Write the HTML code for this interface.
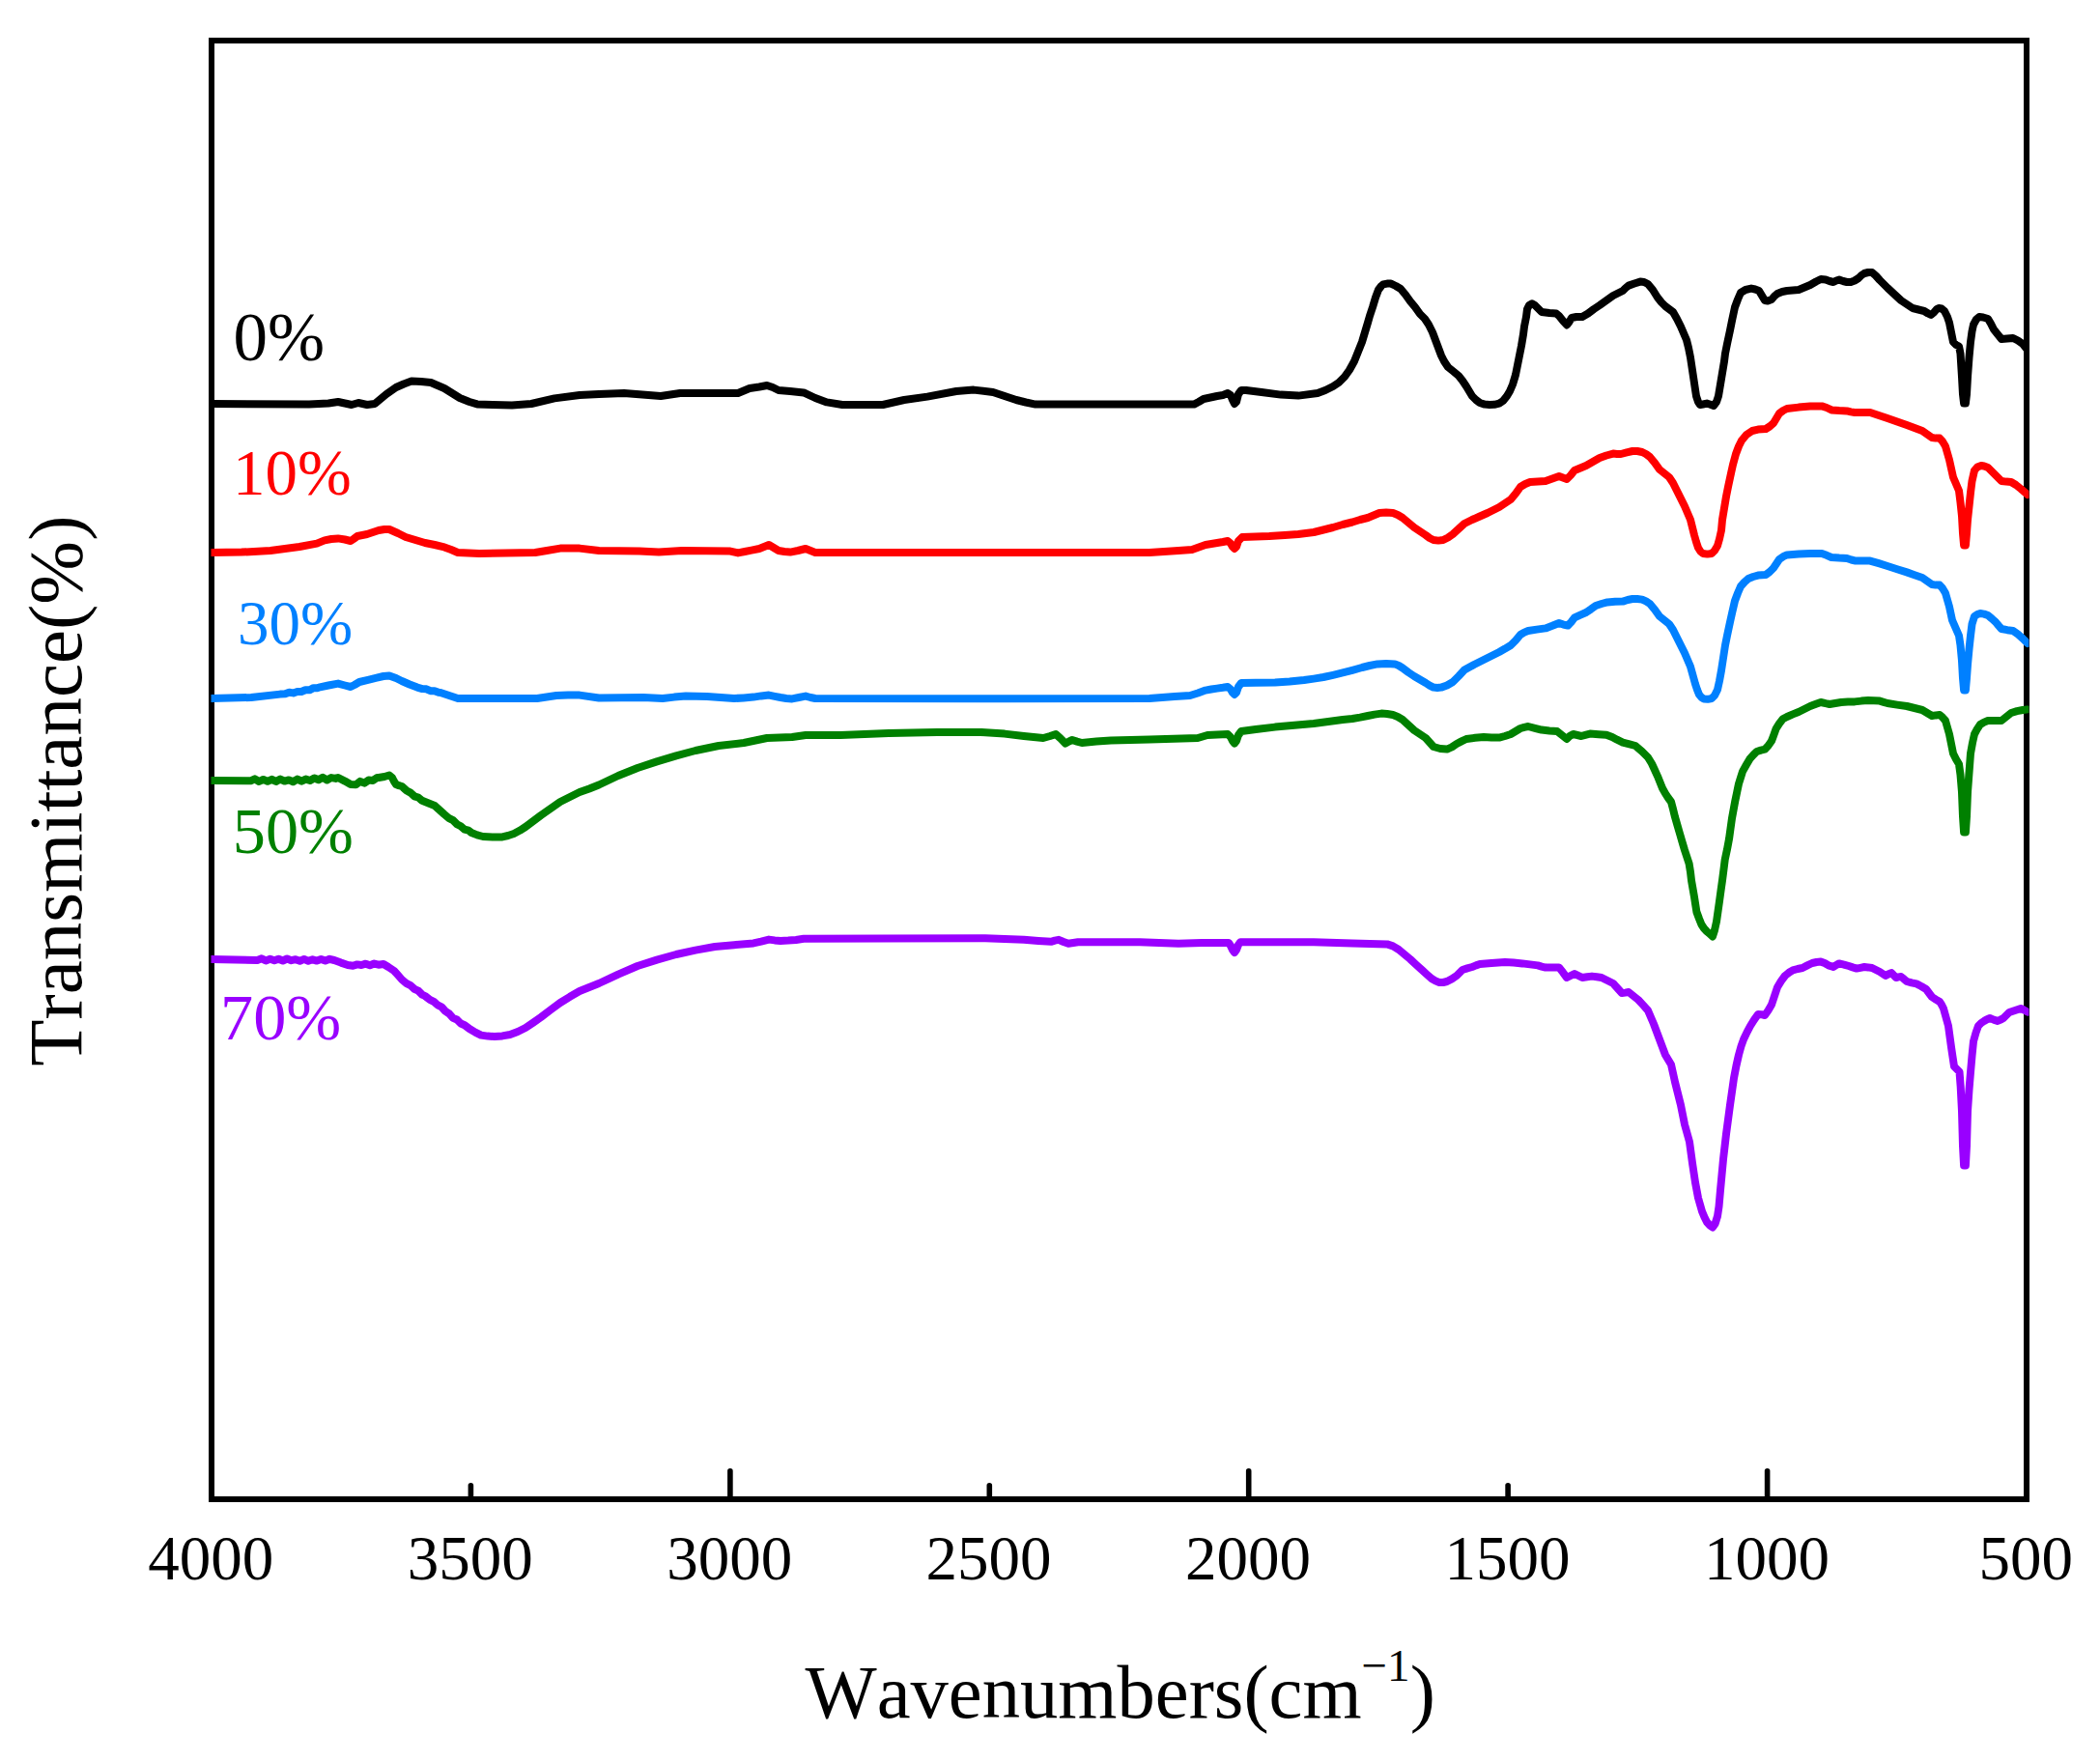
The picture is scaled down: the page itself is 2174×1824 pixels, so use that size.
<!DOCTYPE html>
<html lang="en"><head><meta charset="utf-8"><title>FTIR spectra</title>
<style>
html,body{margin:0;padding:0;background:#fff;}
body{width:2174px;height:1824px;overflow:hidden;}
svg{display:block;}
text{font-family:"Liberation Serif","Times New Roman",serif;font-kerning:none;}
</style></head><body>
<svg width="2174" height="1824" viewBox="0 0 2174 1824">
<rect width="2174" height="1824" fill="#fff"/>
<rect x="219" y="42" width="1879" height="1510" fill="none" stroke="#000" stroke-width="6"/>
<line x1="487.4" y1="1552" x2="487.4" y2="1537.8" stroke="#000" stroke-width="5.6" stroke-linecap="round"/>
<line x1="755.9" y1="1552" x2="755.9" y2="1522.8" stroke="#000" stroke-width="5.6" stroke-linecap="round"/>
<line x1="1024.3" y1="1552" x2="1024.3" y2="1537.8" stroke="#000" stroke-width="5.6" stroke-linecap="round"/>
<line x1="1292.7" y1="1552" x2="1292.7" y2="1522.8" stroke="#000" stroke-width="5.6" stroke-linecap="round"/>
<line x1="1561.1" y1="1552" x2="1561.1" y2="1537.8" stroke="#000" stroke-width="5.6" stroke-linecap="round"/>
<line x1="1829.6" y1="1552" x2="1829.6" y2="1522.8" stroke="#000" stroke-width="5.6" stroke-linecap="round"/>
<text x="218.3" y="1635" text-anchor="middle" font-size="65">4000</text>
<text x="486.7" y="1635" text-anchor="middle" font-size="65">3500</text>
<text x="755.2" y="1635" text-anchor="middle" font-size="65">3000</text>
<text x="1023.6" y="1635" text-anchor="middle" font-size="65">2500</text>
<text x="1292.0" y="1635" text-anchor="middle" font-size="65">2000</text>
<text x="1560.4" y="1635" text-anchor="middle" font-size="65">1500</text>
<text x="1828.9" y="1635" text-anchor="middle" font-size="65">1000</text>
<text x="2097.3" y="1635" text-anchor="middle" font-size="65">500</text>
<text x="833.5" y="1778" font-size="78.6">Wavenumbers(cm<tspan font-size="47" dy="-38">−1</tspan><tspan dy="38">)</tspan></text>
<text transform="translate(84,818.7) rotate(-90)" text-anchor="middle" font-size="79">Transmittance(%)</text>
<text x="241.5" y="373.3" font-size="71" fill="#000000">0%</text>
<text x="241" y="512" font-size="67" fill="#ff0000">10%</text>
<text x="246" y="667.3" font-size="65" fill="#0080ff">30%</text>
<text x="240.8" y="883" font-size="68.3" fill="#008000">50%</text>
<text x="228" y="1075.6" font-size="68.3" fill="#9900ff">70%</text>
<defs><clipPath id="plot"><rect x="218.5" y="39" width="1882" height="1516"/></clipPath></defs>
<g clip-path="url(#plot)">
<polyline fill="none" stroke="#000000" stroke-width="8" stroke-linejoin="round" stroke-linecap="round" points="219.0,418.0 320.0,418.4 340.0,417.5 350.0,416.0 364.0,419.0 371.0,417.0 380.0,419.0 388.0,418.0 394.0,413.0 400.0,408.0 410.0,401.0 418.0,397.5 426.0,394.6 436.0,395.0 446.0,396.0 460.0,402.0 476.0,412.0 486.0,416.0 494.0,418.4 510.0,419.0 530.0,419.6 550.0,418.0 574.0,412.4 600.0,409.0 620.0,408.0 646.0,407.0 665.0,408.5 684.0,410.0 704.0,407.0 764.0,407.0 776.0,402.0 786.0,400.5 794.0,399.0 800.0,401.0 806.0,404.0 818.0,405.0 832.0,406.4 844.0,412.0 856.0,416.4 872.0,419.0 914.0,419.0 936.0,414.0 960.0,410.6 990.0,405.0 1008.0,403.6 1028.0,406.0 1040.0,410.0 1052.0,414.0 1062.0,416.5 1072.0,418.6 1236.0,418.6 1241.0,416.0 1246.0,413.0 1260.0,410.0 1266.0,409.0 1271.0,407.0 1274.0,409.0 1276.0,414.0 1278.0,418.0 1280.0,416.0 1282.0,408.0 1285.0,404.0 1290.0,404.0 1306.0,406.0 1326.0,408.6 1344.0,409.6 1364.0,407.0 1372.0,404.0 1380.0,400.0 1386.0,396.0 1392.0,390.0 1397.0,383.0 1402.0,374.0 1406.0,364.0 1410.0,354.0 1413.0,344.0 1416.0,334.0 1418.0,327.0 1421.0,318.0 1424.0,308.0 1427.0,300.0 1430.0,296.0 1432.0,294.4 1436.0,293.6 1440.0,293.6 1445.0,296.0 1450.0,299.0 1455.0,305.0 1460.0,312.0 1465.0,318.0 1470.0,325.0 1475.0,330.0 1479.0,336.0 1483.0,344.0 1486.0,352.0 1489.0,360.0 1492.0,368.0 1495.0,374.0 1499.0,380.0 1504.0,384.0 1510.0,389.0 1514.0,394.0 1518.0,400.0 1521.0,405.0 1524.0,410.0 1528.0,414.0 1532.0,417.0 1537.0,418.6 1542.0,419.0 1547.0,418.8 1552.0,417.6 1556.0,415.0 1560.0,410.0 1563.0,405.0 1566.0,398.0 1569.0,388.0 1571.0,378.0 1573.0,368.0 1575.0,358.0 1577.0,346.0 1578.0,338.0 1580.0,328.0 1581.0,320.0 1583.0,316.0 1586.0,314.4 1589.0,316.0 1592.0,319.0 1596.0,323.0 1604.0,324.0 1611.0,324.4 1614.0,327.0 1618.0,332.0 1622.0,336.4 1624.0,334.0 1627.0,329.0 1632.0,328.0 1638.0,328.0 1644.0,324.5 1650.0,320.0 1656.0,316.0 1663.0,311.0 1670.0,306.0 1675.0,303.5 1680.0,301.0 1683.0,298.0 1686.0,295.6 1692.0,293.5 1698.0,291.6 1702.0,292.0 1706.0,294.0 1711.0,300.0 1716.0,308.0 1720.0,313.0 1724.0,317.0 1728.0,320.0 1732.0,323.0 1736.0,330.0 1740.0,338.0 1743.0,345.0 1746.0,352.0 1748.0,360.0 1750.0,370.0 1751.5,380.0 1753.0,390.0 1754.5,400.0 1756.0,410.0 1758.0,416.0 1760.0,419.0 1763.0,418.5 1767.0,417.6 1770.0,418.5 1774.0,420.0 1777.0,416.0 1779.0,410.0 1781.0,398.0 1783.0,386.0 1785.0,374.0 1786.0,366.0 1788.0,356.0 1791.0,342.0 1793.0,332.0 1796.0,318.0 1799.0,310.0 1802.0,303.0 1807.0,300.0 1813.0,298.6 1817.0,299.5 1821.0,301.0 1824.0,306.0 1827.0,311.0 1830.0,311.5 1834.0,310.0 1837.0,306.5 1840.0,304.0 1845.0,302.0 1850.0,301.0 1856.0,300.5 1862.0,300.0 1868.0,297.5 1874.0,295.0 1880.0,291.5 1885.0,289.0 1890.0,289.5 1894.0,291.0 1898.0,292.0 1901.0,290.5 1904.0,289.6 1908.0,291.0 1912.0,292.0 1916.0,292.0 1920.0,290.5 1924.0,288.0 1927.0,285.0 1930.0,283.0 1934.0,282.0 1938.0,282.0 1942.0,285.5 1946.0,290.0 1950.0,294.0 1954.0,298.0 1961.0,304.5 1968.0,311.0 1974.0,315.0 1980.0,319.0 1986.0,320.5 1992.0,322.0 1996.0,324.5 1999.0,326.0 2002.0,323.5 2005.0,320.0 2007.0,319.0 2010.0,319.5 2013.0,322.0 2016.0,328.0 2018.0,334.0 2020.0,344.0 2022.0,354.0 2025.0,357.0 2028.0,358.5 2029.5,366.0 2031.0,390.0 2032.0,408.0 2033.1,417.5 2034.9,417.5 2036.0,408.0 2037.0,390.0 2038.5,370.0 2040.0,354.0 2041.5,343.0 2043.0,336.0 2046.0,330.5 2049.0,328.0 2053.0,328.5 2058.0,330.0 2061.0,335.0 2064.0,341.0 2068.0,346.0 2072.0,351.0 2078.0,350.5 2084.0,350.0 2089.0,352.5 2094.0,356.0 2098.0,361.0"/>
<polyline fill="none" stroke="#ff0000" stroke-width="8" stroke-linejoin="round" stroke-linecap="round" points="219.0,572.0 250.0,571.6 280.0,570.0 310.0,566.0 328.0,562.6 336.0,559.4 343.0,558.0 350.0,557.4 357.0,558.5 363.0,560.0 366.0,558.0 370.0,555.0 380.0,553.0 386.0,551.0 392.0,549.0 398.0,548.0 403.0,548.0 412.0,552.0 420.0,556.0 430.0,559.0 440.0,562.0 450.0,564.0 460.0,566.4 467.0,569.0 474.0,572.0 496.0,573.0 554.0,572.0 566.0,570.0 580.0,567.6 600.0,567.6 620.0,570.0 662.0,570.6 682.0,571.6 706.0,570.0 756.0,570.6 764.0,572.4 771.0,571.0 778.0,569.6 786.0,568.0 791.0,566.0 796.0,564.0 801.0,567.0 806.0,570.0 812.0,571.0 818.0,571.6 826.0,570.0 834.0,568.0 839.0,570.0 844.0,572.0 1040.0,572.0 1190.0,572.0 1205.0,571.0 1220.0,570.0 1234.0,569.0 1241.0,566.5 1248.0,564.0 1254.0,563.0 1260.0,562.0 1266.0,561.0 1271.0,560.0 1274.0,562.5 1276.0,566.0 1278.0,568.0 1280.0,566.0 1282.0,560.0 1286.0,556.0 1300.0,555.5 1314.0,555.0 1330.0,554.0 1344.0,553.0 1360.0,551.0 1370.0,548.5 1380.0,546.0 1390.0,543.0 1400.0,540.5 1408.0,538.0 1416.0,536.0 1422.0,533.5 1428.0,531.0 1435.0,530.6 1442.0,531.0 1447.0,533.0 1452.0,536.0 1458.0,541.0 1464.0,546.0 1470.0,550.0 1476.0,554.0 1480.0,557.0 1484.0,559.0 1489.0,559.6 1494.0,559.0 1499.0,556.5 1504.0,553.0 1510.0,547.5 1516.0,542.0 1524.0,538.0 1532.0,534.5 1540.0,531.0 1546.0,528.0 1552.0,525.0 1558.0,521.0 1564.0,517.0 1569.0,511.0 1574.0,504.0 1579.0,501.0 1584.0,499.0 1592.0,498.4 1600.0,498.0 1607.0,495.5 1614.0,493.0 1618.0,494.5 1622.0,496.0 1626.0,492.0 1630.0,487.0 1636.0,484.5 1642.0,482.0 1649.0,478.0 1656.0,474.0 1663.0,471.5 1670.0,469.6 1674.0,470.0 1678.0,470.0 1684.0,468.4 1690.0,467.0 1695.0,467.0 1700.0,468.0 1704.0,470.0 1708.0,473.0 1713.0,479.0 1718.0,486.0 1723.0,490.0 1728.0,494.0 1732.0,500.0 1736.0,508.0 1740.0,516.0 1744.0,524.0 1747.0,531.0 1750.0,538.0 1752.0,546.0 1754.0,554.0 1756.0,561.0 1758.0,567.0 1760.5,571.0 1763.0,573.0 1767.5,573.6 1772.0,573.0 1775.0,570.0 1778.0,565.0 1780.0,558.0 1782.0,549.0 1783.0,538.0 1785.0,526.0 1787.0,514.0 1789.0,504.0 1792.0,490.0 1794.0,481.0 1797.0,470.0 1800.0,462.0 1803.0,456.0 1808.0,450.0 1814.0,446.0 1820.0,444.6 1828.0,444.0 1832.0,441.5 1836.0,438.0 1839.0,433.0 1842.0,428.0 1846.0,425.0 1850.0,423.0 1862.0,421.6 1874.0,420.6 1886.0,420.4 1891.0,422.0 1896.0,424.4 1904.0,425.0 1912.0,425.4 1916.0,426.4 1920.0,427.0 1928.0,427.0 1936.0,427.0 1945.0,430.0 1954.0,433.0 1964.0,436.5 1974.0,440.0 1982.0,443.0 1990.0,446.0 1995.0,449.5 2000.0,453.0 2004.0,453.6 2008.0,453.6 2011.0,457.0 2014.0,462.0 2016.0,469.0 2018.0,476.0 2020.0,485.0 2022.0,494.0 2025.0,501.0 2028.0,508.0 2029.5,520.0 2031.0,534.0 2032.0,552.0 2033.1,564.5 2034.9,564.5 2036.0,552.0 2037.0,538.0 2038.5,524.0 2040.0,510.0 2041.5,498.0 2044.0,487.0 2047.0,483.5 2051.0,482.0 2054.0,482.5 2058.0,484.0 2062.0,488.0 2066.0,492.0 2069.0,495.0 2072.0,498.0 2077.0,498.6 2082.0,499.0 2087.0,502.0 2092.0,506.0 2099.0,512.0"/>
<polyline fill="none" stroke="#0080ff" stroke-width="8" stroke-linejoin="round" stroke-linecap="round" points="219.0,723.0 260.0,722.0 290.0,718.6 295.2,718.3 299.4,716.7 303.6,717.4 307.8,715.9 312.0,716.0 316.2,714.2 320.4,714.3 324.6,712.2 328.8,712.2 330.0,711.6 340.0,709.5 350.0,707.6 357.0,709.5 363.0,711.0 367.0,709.0 372.0,706.0 381.0,703.8 390.0,701.6 397.0,700.0 403.0,699.4 410.0,702.0 416.0,705.0 424.0,708.5 432.0,711.6 437.2,713.1 441.4,713.3 445.6,715.2 449.8,715.2 454.0,716.8 456.0,717.0 465.0,720.0 474.0,723.0 556.0,723.0 566.0,721.5 576.0,720.0 588.0,719.6 600.0,719.6 620.0,722.5 666.0,722.0 686.0,723.0 698.0,721.6 710.0,720.6 732.0,721.0 746.0,722.0 760.0,723.0 770.0,722.4 780.0,721.6 788.0,720.4 796.0,719.6 802.0,720.8 808.0,722.0 814.0,723.0 820.0,723.4 827.0,722.0 834.0,720.6 839.0,722.0 844.0,723.0 1040.0,723.2 1190.0,723.0 1203.0,722.0 1216.0,721.0 1232.0,720.0 1240.0,717.5 1248.0,714.6 1254.0,713.5 1260.0,712.6 1266.0,711.8 1271.0,711.0 1274.0,713.5 1276.0,717.0 1278.0,719.0 1280.0,717.0 1282.0,711.0 1285.0,707.0 1300.0,706.8 1320.0,706.6 1335.0,705.5 1350.0,704.0 1360.0,702.6 1370.0,701.0 1380.0,698.8 1390.0,696.4 1400.0,693.8 1410.0,691.0 1418.0,689.0 1426.0,687.4 1435.0,687.0 1444.0,687.4 1448.0,689.0 1452.0,691.5 1458.0,696.0 1464.0,700.0 1470.0,703.5 1476.0,707.0 1480.0,709.6 1484.0,711.6 1488.0,712.0 1492.0,711.6 1498.0,709.5 1504.0,706.0 1510.0,700.0 1516.0,693.6 1526.0,688.0 1536.0,683.0 1544.0,679.0 1552.0,675.0 1558.0,671.6 1564.0,668.0 1569.0,663.0 1574.0,657.0 1578.0,654.6 1582.0,653.0 1591.0,651.6 1600.0,650.4 1607.0,647.8 1614.0,645.0 1618.5,646.6 1623.0,647.6 1626.5,644.0 1630.0,639.4 1636.0,636.6 1642.0,634.0 1647.0,630.6 1652.0,627.0 1658.0,625.0 1664.0,623.4 1672.0,622.8 1680.0,622.6 1685.0,621.0 1690.0,620.0 1695.0,620.0 1700.0,620.6 1704.0,622.4 1708.0,625.0 1713.0,631.0 1718.0,638.0 1723.0,642.0 1728.0,646.0 1732.0,652.0 1736.0,660.0 1740.0,668.0 1744.0,676.0 1747.0,683.0 1750.0,690.0 1752.5,699.0 1755.0,708.0 1757.0,714.0 1759.0,719.0 1761.5,722.0 1764.0,723.4 1768.0,723.8 1772.0,723.0 1775.0,720.0 1778.0,714.0 1780.0,705.0 1782.0,694.0 1784.0,681.0 1786.0,668.0 1788.0,658.0 1791.0,644.0 1793.0,635.0 1796.0,622.0 1799.0,614.0 1802.0,607.0 1806.0,602.5 1810.0,599.0 1815.0,597.0 1820.0,595.6 1828.0,595.0 1832.0,592.0 1836.0,588.0 1839.0,583.5 1842.0,579.0 1846.0,576.2 1850.0,574.4 1862.0,573.5 1874.0,573.0 1886.0,573.0 1891.0,574.8 1896.0,577.0 1904.0,577.6 1912.0,578.0 1916.5,579.5 1921.0,580.6 1928.0,580.6 1936.0,580.6 1945.0,583.2 1954.0,586.0 1964.0,589.2 1974.0,592.4 1982.0,595.2 1990.0,598.0 1995.0,601.5 2000.0,605.0 2004.0,605.6 2008.0,605.6 2011.0,609.0 2014.0,614.0 2016.0,621.0 2018.0,628.0 2019.5,635.0 2021.0,642.0 2024.5,650.0 2028.0,658.0 2029.5,668.0 2031.0,684.0 2032.0,702.0 2033.1,714.5 2034.9,714.5 2036.0,702.0 2037.0,688.0 2038.5,672.0 2040.0,658.0 2041.5,646.0 2044.0,638.0 2047.0,636.0 2050.0,635.0 2054.0,635.6 2058.0,637.0 2062.0,640.4 2066.0,644.0 2069.0,647.6 2072.0,651.0 2078.0,652.2 2084.0,653.0 2089.0,656.6 2094.0,661.0 2099.0,666.0"/>
<polyline fill="none" stroke="#008000" stroke-width="8" stroke-linejoin="round" stroke-linecap="round" points="219.0,808.0 259.4,808.3 263.8,806.3 268.2,809.0 272.6,806.9 277.0,808.8 281.4,806.8 285.8,809.0 290.2,806.6 294.6,808.6 299.0,807.4 303.4,809.2 307.8,806.6 312.2,808.7 316.6,806.6 321.0,808.0 325.4,805.5 329.8,807.3 334.2,804.8 338.6,807.5 343.0,805.1 347.4,805.9 350.0,805.0 357.0,808.6 363.0,812.0 368.4,812.3 372.8,808.9 377.2,810.6 381.6,807.6 386.0,808.0 390.4,804.9 392.0,805.0 398.0,804.0 403.0,802.5 406.0,805.0 408.0,809.0 410.0,812.0 413.0,813.2 416.0,814.0 421.0,818.5 425.0,820.6 429.0,824.3 433.0,825.5 437.0,828.8 440.0,830.0 445.0,832.0 450.0,834.0 455.0,838.5 460.0,843.0 465.0,847.2 469.0,849.2 473.0,853.2 477.0,855.3 481.0,858.7 485.0,859.7 488.0,862.0 494.0,864.4 500.0,866.0 510.0,866.6 520.0,866.4 526.0,865.0 532.0,863.0 538.0,859.8 544.0,856.0 552.0,850.0 560.0,844.0 570.0,837.0 580.0,830.0 590.0,825.0 600.0,820.0 610.0,816.4 620.0,812.5 640.0,803.0 660.0,795.0 680.0,788.4 700.0,782.4 720.0,777.0 744.0,772.0 770.0,769.0 782.0,766.5 794.0,764.0 807.0,763.4 820.0,763.0 827.0,762.0 834.0,761.0 870.0,761.0 920.0,759.0 970.0,758.0 1016.0,758.0 1040.0,759.6 1060.0,762.0 1080.0,764.0 1087.0,762.0 1093.0,760.0 1098.0,764.5 1103.0,769.6 1106.5,767.6 1110.0,766.0 1115.0,767.6 1120.0,769.0 1135.0,767.6 1150.0,766.4 1190.0,765.6 1240.0,764.0 1245.0,762.5 1250.0,761.0 1260.0,760.5 1271.0,760.0 1274.0,763.0 1276.0,767.0 1278.0,769.6 1280.0,767.0 1282.0,761.0 1285.0,757.0 1300.0,755.0 1320.0,752.6 1340.0,750.8 1360.0,749.0 1375.0,747.0 1390.0,745.0 1400.0,744.0 1408.0,742.6 1416.0,741.0 1423.0,739.6 1430.0,738.6 1436.0,739.0 1442.0,740.0 1447.0,742.0 1452.0,745.0 1458.0,750.5 1464.0,756.0 1470.0,760.0 1476.0,764.0 1480.0,768.5 1484.0,773.0 1491.0,775.0 1498.0,775.6 1503.0,773.4 1508.0,770.0 1513.0,767.4 1518.0,765.0 1527.0,763.8 1536.0,763.0 1544.0,763.6 1552.0,763.6 1558.0,762.0 1564.0,760.0 1569.0,757.0 1574.0,754.0 1578.0,752.8 1582.0,752.0 1589.0,753.8 1596.0,755.6 1604.0,756.4 1612.0,757.0 1617.0,761.0 1622.0,765.0 1625.0,762.0 1628.6,760.0 1633.0,761.0 1637.0,762.0 1642.0,760.6 1646.0,759.6 1655.0,760.2 1663.0,760.7 1669.0,763.0 1674.0,765.7 1680.0,768.6 1687.0,770.4 1693.0,772.0 1700.0,778.0 1706.0,784.0 1710.0,790.5 1713.0,797.0 1716.0,803.6 1718.6,810.0 1721.0,816.0 1724.0,821.4 1727.0,826.0 1730.0,830.0 1732.0,837.6 1734.0,845.7 1736.5,854.4 1739.0,863.0 1741.5,871.6 1744.0,880.0 1746.3,887.0 1748.6,894.0 1750.0,902.6 1751.0,911.4 1752.5,920.0 1754.0,928.6 1755.2,936.4 1756.4,944.0 1759.0,951.0 1761.4,957.0 1764.0,961.0 1767.0,964.3 1770.0,966.8 1773.0,969.4 1775.0,963.0 1777.0,954.0 1778.5,943.5 1780.0,933.0 1781.5,922.0 1783.0,911.4 1784.4,900.6 1785.7,890.0 1788.0,879.2 1790.0,868.6 1791.5,857.8 1793.0,847.0 1794.7,837.8 1796.4,828.6 1798.2,820.0 1800.0,811.4 1802.0,805.0 1804.0,798.6 1807.7,792.0 1811.4,785.7 1815.0,781.6 1818.6,778.0 1823.0,776.6 1827.0,775.7 1830.5,772.0 1834.0,767.0 1836.3,760.8 1838.6,754.3 1842.0,749.0 1845.7,744.3 1850.0,742.0 1856.0,739.4 1862.0,737.0 1868.0,734.0 1874.0,731.0 1880.0,728.8 1885.0,727.0 1890.0,728.2 1894.0,729.0 1900.0,728.0 1906.0,727.0 1913.0,726.6 1920.0,726.4 1927.0,725.6 1934.0,725.0 1940.0,725.2 1946.0,725.6 1950.0,726.8 1954.0,728.0 1964.0,729.6 1974.0,731.0 1982.0,733.0 1990.0,735.0 1995.0,738.0 2000.0,741.0 2004.0,740.4 2008.0,740.0 2011.0,742.6 2014.0,746.0 2016.0,753.0 2018.0,760.0 2020.0,770.0 2022.0,780.0 2025.0,786.0 2028.0,791.0 2029.5,802.0 2031.0,820.0 2032.0,845.0 2033.1,861.5 2034.9,861.5 2036.0,845.0 2037.0,820.0 2038.5,800.0 2040.0,780.0 2042.0,769.0 2044.0,760.0 2047.0,754.4 2050.0,750.0 2054.0,747.6 2058.0,746.0 2065.0,746.0 2072.0,746.0 2077.0,742.0 2082.0,738.0 2088.0,736.2 2094.0,735.0 2099.0,734.4"/>
<polyline fill="none" stroke="#9900ff" stroke-width="8" stroke-linejoin="round" stroke-linecap="round" points="219.0,993.0 266.4,993.9 270.8,992.3 275.2,994.4 279.6,992.8 284.0,994.3 288.4,992.7 292.8,994.5 297.2,992.5 301.6,994.2 306.0,993.2 310.4,994.8 314.8,992.9 319.2,994.8 323.6,993.3 328.0,994.6 332.4,992.9 336.8,994.6 341.2,992.8 346.0,994.0 353.0,996.6 360.0,999.0 365.4,999.8 369.8,998.4 374.2,999.0 378.6,997.7 383.0,999.3 387.4,997.6 391.8,998.7 397.0,998.0 402.0,1001.0 408.0,1005.0 412.0,1009.4 416.0,1014.0 421.0,1018.2 425.0,1020.1 429.0,1023.8 433.0,1025.6 437.0,1029.6 440.0,1031.0 445.0,1034.9 449.0,1036.8 453.0,1040.4 457.0,1042.3 461.0,1046.7 465.0,1049.4 469.0,1053.9 473.0,1055.5 477.0,1059.5 481.0,1061.2 486.0,1065.0 492.0,1068.6 498.0,1071.6 505.0,1072.6 512.0,1073.0 520.0,1072.4 528.0,1071.0 536.0,1068.0 544.0,1064.0 552.0,1058.6 560.0,1053.0 570.0,1045.4 580.0,1038.0 590.0,1031.8 600.0,1026.0 610.0,1022.0 620.0,1018.0 640.0,1008.6 660.0,1000.0 680.0,993.6 700.0,988.0 720.0,983.6 740.0,980.0 760.0,978.2 780.0,976.4 788.0,974.6 796.0,972.6 802.0,973.4 808.0,974.0 816.0,973.6 824.0,973.0 832.0,971.8 914.0,971.6 1020.0,971.2 1040.0,972.0 1060.0,972.8 1075.0,974.0 1088.0,974.8 1092.0,973.6 1096.0,972.8 1101.0,975.0 1106.0,976.8 1111.0,976.0 1116.0,975.2 1180.0,975.2 1200.0,976.0 1220.0,976.8 1244.0,976.0 1272.0,976.0 1274.0,979.0 1276.0,983.4 1278.0,986.0 1280.0,983.4 1282.0,978.0 1284.0,975.2 1360.0,975.2 1400.0,976.4 1436.0,977.4 1442.0,979.4 1448.0,983.0 1454.0,988.0 1460.0,993.0 1466.0,998.6 1472.0,1004.0 1477.0,1008.6 1482.0,1013.0 1486.0,1015.4 1490.0,1017.0 1494.0,1017.0 1498.0,1016.0 1503.0,1013.4 1508.0,1010.0 1511.0,1007.0 1514.0,1004.0 1519.0,1002.4 1524.0,1001.0 1528.0,999.4 1532.0,998.0 1538.0,997.4 1544.0,997.0 1551.0,996.4 1558.0,996.0 1567.0,996.6 1576.0,997.4 1584.0,998.4 1592.0,999.4 1596.0,1000.6 1600.0,1001.6 1607.0,1001.6 1614.0,1001.6 1618.0,1006.6 1622.0,1012.0 1626.0,1010.0 1630.0,1008.0 1634.0,1010.0 1638.0,1012.0 1643.0,1011.2 1648.0,1010.6 1653.0,1011.2 1658.0,1012.0 1664.0,1015.0 1670.0,1018.0 1674.5,1023.0 1679.0,1028.0 1682.5,1027.6 1686.0,1027.0 1691.0,1031.0 1696.0,1035.0 1701.0,1040.4 1706.0,1046.0 1709.0,1053.0 1712.0,1060.0 1715.0,1068.0 1718.0,1076.0 1721.0,1084.0 1724.0,1092.0 1727.0,1097.0 1730.0,1102.0 1732.0,1111.0 1734.0,1120.0 1737.0,1132.0 1740.0,1144.0 1742.0,1154.0 1744.0,1164.0 1746.5,1173.0 1749.0,1182.0 1750.5,1193.0 1752.0,1204.0 1753.5,1214.0 1755.0,1224.0 1756.5,1232.0 1758.0,1240.0 1760.0,1247.0 1762.0,1254.0 1764.5,1260.0 1767.0,1265.0 1770.0,1268.4 1773.0,1270.5 1775.5,1267.0 1778.0,1259.0 1779.5,1249.0 1781.0,1232.0 1782.5,1216.0 1784.0,1200.0 1785.5,1187.0 1787.0,1174.0 1789.0,1159.0 1791.0,1144.0 1793.0,1130.0 1795.0,1116.0 1797.5,1103.0 1800.0,1092.0 1802.5,1083.0 1805.0,1076.0 1808.5,1068.6 1812.0,1062.0 1816.0,1055.6 1820.0,1050.0 1823.5,1050.2 1827.0,1051.0 1830.5,1046.0 1834.0,1040.0 1837.0,1031.0 1840.0,1022.0 1844.0,1015.4 1848.0,1010.0 1852.0,1006.8 1856.0,1004.4 1861.0,1003.0 1866.0,1002.0 1871.0,999.4 1876.0,997.0 1880.5,996.0 1885.0,995.6 1889.0,997.0 1893.0,999.4 1898.0,1001.0 1901.0,999.0 1904.0,997.4 1909.0,998.6 1914.0,1000.0 1918.0,1001.4 1922.0,1002.6 1926.0,1001.8 1930.0,1001.0 1934.0,1001.4 1938.0,1002.0 1942.0,1004.0 1946.0,1006.0 1949.0,1008.0 1952.0,1010.0 1955.0,1008.4 1958.0,1007.0 1960.5,1009.6 1963.0,1012.0 1965.5,1011.4 1968.0,1011.0 1971.0,1013.4 1974.0,1016.0 1979.0,1017.4 1984.0,1018.4 1989.0,1021.0 1994.0,1024.0 1997.0,1028.0 2000.0,1032.0 2004.0,1034.6 2008.0,1037.0 2010.0,1040.0 2012.0,1044.0 2014.5,1053.0 2017.0,1062.0 2018.5,1073.0 2020.0,1084.0 2021.5,1094.0 2023.0,1104.0 2026.0,1107.0 2028.5,1109.5 2029.7,1125.0 2031.0,1150.0 2032.0,1186.0 2033.1,1206.5 2034.9,1206.5 2036.0,1186.0 2037.0,1150.0 2038.5,1128.0 2040.0,1110.0 2041.5,1093.0 2043.0,1078.0 2045.5,1069.0 2048.0,1062.0 2051.0,1059.0 2054.0,1057.0 2057.0,1055.2 2060.0,1054.0 2064.0,1055.6 2068.0,1057.0 2071.0,1055.6 2074.0,1054.0 2077.0,1051.0 2080.0,1048.0 2083.0,1047.0 2086.0,1046.0 2089.0,1045.0 2092.0,1044.0 2095.5,1045.6 2099.0,1047.6"/>
</g>
</svg>
</body></html>
